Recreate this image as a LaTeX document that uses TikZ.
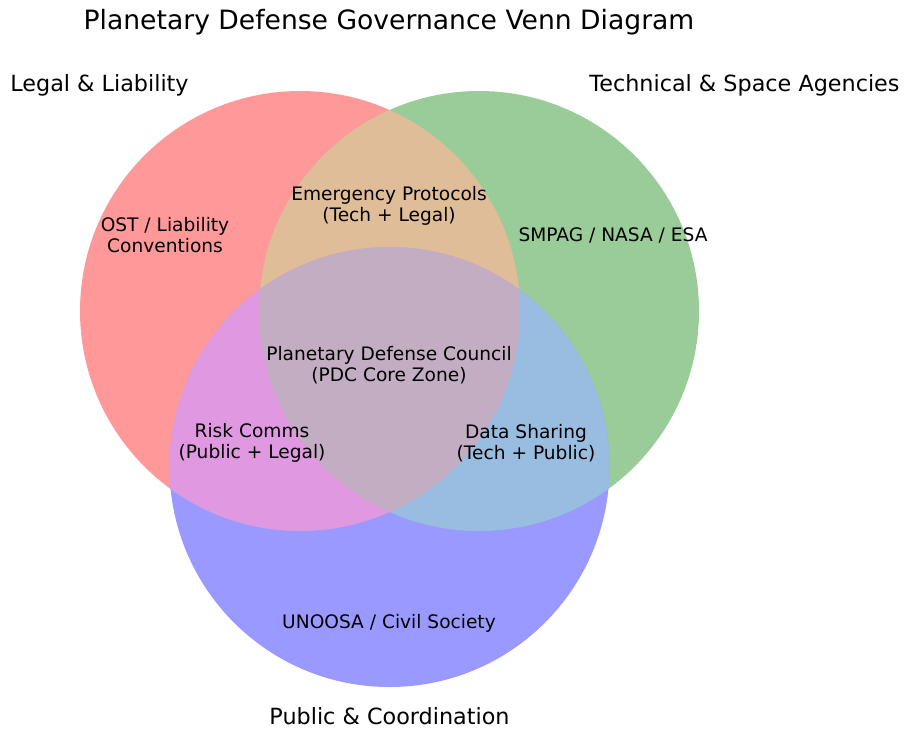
\documentclass[tikz,border=0pt]{standalone}
\usepackage{fontspec}
\setmainfont{DejaVu Sans}
\definecolor{legalred}{RGB}{255,153,153}
\definecolor{techgreen}{RGB}{153,204,153}
\definecolor{publicblue}{RGB}{153,153,255}
\definecolor{legaltech}{RGB}{224,189,153}
\definecolor{legalpublic}{RGB}{224,153,224}
\definecolor{techpublic}{RGB}{153,189,224}
\definecolor{corezone}{RGB}{194,173,194}
\begin{document}
\begin{tikzpicture}[x=1pt,y=-1pt,
    setlabel/.style={font=\fontsize{22.3}{26}\selectfont, inner sep=0pt},
    regionlabel/.style={font=\fontsize{18.6}{21.5}\selectfont, align=center, inner sep=0pt}]
    \useasboundingbox (0,0) rectangle (904,729);
    \coordinate (legal) at (300,311);
    \coordinate (tech) at (479,311);
    \coordinate (public) at (389.5,467);
    % one set only
    \foreach \c/\col in {legal/legalred,tech/techgreen,public/publicblue}
        \path[fill=\col] (\c) circle[radius=220pt];
    % overlaps
    \begin{scope}
        \clip (tech) circle[radius=220pt];
        \path[fill=techpublic] (public) circle[radius=220pt];
    \end{scope}
    \begin{scope}
        \clip (legal) circle[radius=220pt];
        \path[fill=legaltech] (tech) circle[radius=220pt];
        \path[fill=legalpublic] (public) circle[radius=220pt];
        \clip (tech) circle[radius=220pt];
        \path[fill=corezone] (public) circle[radius=220pt];
    \end{scope}
    % texts
    \node[font=\fontsize{26.6}{30}\selectfont, inner sep=0pt] (title) at (389,22) {Planetary Defense Governance Venn Diagram};
    \node[setlabel] (legalname) at (99.5,85) {Legal \& Liability};
    \node[setlabel] (techname) at (744.5,85) {Technical \& Space Agencies};
    \node[setlabel] (publicname) at (389.5,716) {Public \& Coordination};
    \node[regionlabel] (ost) at (165,235) {OST / Liability\\Conventions};
    \node[regionlabel] (emergency) at (389,206) {Emergency Protocols\\(Tech + Legal)};
    \node[regionlabel] (smpag) at (613,235) {SMPAG / NASA / ESA};
    \node[regionlabel] (pdc) at (389,365) {Planetary Defense Council\\(PDC Core Zone)};
    \node[regionlabel] (risk) at (252,443) {Risk Comms\\(Public + Legal)};
    \node[regionlabel] (datashare) at (526,443) {Data Sharing\\(Tech + Public)};
    \node[regionlabel] (unoosa) at (389,623) {UNOOSA / Civil Society};
\end{tikzpicture}
\end{document}
